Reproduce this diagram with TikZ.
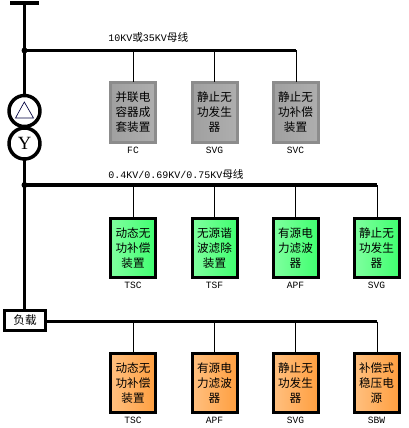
\documentclass[tikz,border=0pt]{standalone}
\usepackage{fontspec}
\setmainfont{Liberation Mono}
\newfontfamily\cjk{Noto Sans CJK SC}
\newfontfamily\serifface{Liberation Serif}
\definecolor{grayedge}{HTML}{8C8C8C}
\definecolor{grayL}{HTML}{A0A0A0}
\definecolor{grayR}{HTML}{AEAEAE}
\definecolor{greenL}{HTML}{80FF9F}
\definecolor{greenR}{HTML}{40FF70}
\definecolor{orangeL}{HTML}{FFC080}
\definecolor{orangeR}{HTML}{FF9F40}
\newcommand{\cjktext}[1]{{\cjk\fontsize{8pt}{9pt}\selectfont #1}}
\tikzset{
  x=0.75pt,y=-0.75pt,
  devbox/.style={rectangle,minimum width=33.75pt,minimum height=44pt,inner sep=0pt,outer sep=0pt,line width=2.25pt,
    align=center,text=black,font={\cjk\fontsize{8.7pt}{11.25pt}\selectfont}},
  graybox/.style={devbox,draw=grayedge,left color=grayL,right color=grayR,minimum height=45pt},
  greenbox/.style={devbox,draw=black,left color=greenL,right color=greenR},
  orangebox/.style={devbox,draw=black,left color=orangeL,right color=orangeR},
  bus/.style={line width=2.6pt,black},
  stem/.style={line width=0.75pt,black},
  code/.style={font={\fontsize{7.2pt}{9pt}\selectfont},inner sep=0pt},
  buslabel/.style={anchor=west,inner sep=0pt,font={\fontsize{7.5pt}{9pt}\selectfont}},
  winding/.style={circle,draw=black,line width=2.6pt,fill=white,minimum size=23.25pt,inner sep=0pt},
  dot/.style={circle,fill=black,inner sep=0pt,minimum size=4.5pt}
}
\begin{document}
\begin{tikzpicture}
\useasboundingbox (0,0) rectangle (408,428);
% coordinates
\coordinate (top) at (24.5,3);
\coordinate (topL) at (10,3);
\coordinate (topR) at (39,3);
\coordinate (j1) at (24.5,50.5);
\coordinate (j2) at (24.5,185);
\coordinate (e1) at (296,50.5);
\coordinate (e2) at (377,185);
\coordinate (e3) at (377,321.5);
\coordinate (t1) at (133.5,50.5);
\coordinate (t2) at (214.5,50.5);
\coordinate (t4) at (133.5,185);
\coordinate (t5) at (214.5,185);
\coordinate (t6) at (295.5,185);
\coordinate (t8) at (133.5,321.5);
\coordinate (t9) at (214.5,321.5);
\coordinate (t10) at (295.5,321.5);
% load
\node[draw=black,line width=2.6pt,minimum width=30.75pt,minimum height=15pt,inner sep=0pt,fill=white,font={\cjk\fontsize{8.7pt}{10pt}\selectfont}] (load) at (25,320.5) {负载};
\draw[bus] (topL) -- (topR);
\draw[bus] (top) -- (load.north -| top);
\draw[bus] (j1) -- (e1);
\draw[bus] (j2) -- (e2);
\draw[bus] (load.east |- e3) -- (e3);
\node[dot] (d1) at (j1) {};
\node[dot] (d2) at (j2) {};
% transformer
\node[winding] (delta) at (24.5,111) {};
\node[winding] (wye) at (24.5,143.5) {};
\draw[line width=0.5pt,black!75!blue] (15.5,118) -- (24.3,102) -- (33.5,118) -- cycle;
\node[inner sep=0pt,font={\serifface\fontsize{14pt}{14pt}\selectfont}] at (24.5,143.8) {Y};
% boxes row 1
\node[graybox] (b1) at (133,112.5) {并联电\\容器成\\套装置};
\node[graybox] (b2) at (214.5,112.5) {静止无\\功发生\\器};
\node[graybox] (b3) at (295.5,112.5) {静止无\\功补偿\\装置};
\node[code] at (133,150) {FC};
\node[code] at (214.5,150) {SVG};
\node[code] at (295.5,150) {SVC};
% row 2
\node[greenbox] (g1) at (133,248) {动态无\\功补偿\\装置};
\node[greenbox] (g2) at (214.5,248) {无源谐\\波滤除\\装置};
\node[greenbox] (g3) at (295.5,248) {有源电\\力滤波\\器};
\node[greenbox] (g4) at (376.5,248) {静止无\\功发生\\器};
\node[code] at (133,285) {TSC};
\node[code] at (214.5,285) {TSF};
\node[code] at (295.5,285) {APF};
\node[code] at (376.5,285) {SVG};
% row 3
\node[orangebox] (o1) at (133,383) {动态无\\功补偿\\装置};
\node[orangebox] (o2) at (214.5,383) {有源电\\力滤波\\器};
\node[orangebox] (o3) at (295.5,383) {静止无\\功发生\\器};
\node[orangebox] (o4) at (376.5,383) {补偿式\\稳压电\\源};
\node[code] at (133,420) {TSC};
\node[code] at (214.5,420) {APF};
\node[code] at (295.5,420) {SVG};
\node[code] at (376.5,420) {SBW};
% stems
\draw[stem] (t1) -- (t1 |- b1.north);
\draw[stem] (t2) -- (t2 |- b2.north);
\draw[stem] (e1) -- (e1 |- b3.north);
\draw[stem] (t4) -- (t4 |- g1.north);
\draw[stem] (t5) -- (t5 |- g2.north);
\draw[stem] (t6) -- (t6 |- g3.north);
\draw[stem] (e2) -- (e2 |- g4.north);
\draw[stem] (t8) -- (t8 |- o1.north);
\draw[stem] (t9) -- (t9 |- o2.north);
\draw[stem] (t10) -- (t10 |- o3.north);
\draw[stem] (e3) -- (e3 |- o4.north);
% bus labels
\node[buslabel] at (108,37) {10KV\cjktext{或}35KV\cjktext{母线}};
\node[buslabel] at (108,174) {0.4KV/0.69KV/0.75KV\cjktext{母线}};
\end{tikzpicture}
\end{document}
